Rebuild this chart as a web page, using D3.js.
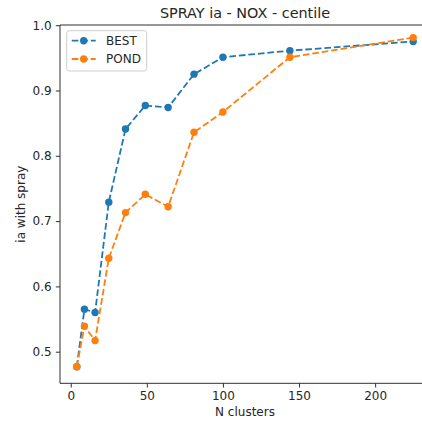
<!DOCTYPE html>
<html>
<head>
<meta charset="utf-8">
<script src="https://cdn.jsdelivr.net/npm/d3@7"></script>
<style>
  html, body { margin: 0; padding: 0; background: #fff; }
  svg { display: block; }
  text { font-family: "DejaVu Sans", sans-serif; fill: #262626; }
</style>
</head>
<body>
<svg id="chart" width="422" height="422"></svg>
<script>
const nClusters = [4, 9, 16, 25, 36, 49, 64, 81, 100, 144, 225];
const best = [0.477, 0.565, 0.560, 0.729, 0.841, 0.877, 0.874, 0.925, 0.951, 0.961, 0.975];
const pond = [0.477, 0.539, 0.517, 0.643, 0.713, 0.741, 0.722, 0.836, 0.867, 0.951, 0.981];
const xTicks = [0, 50, 100, 150, 200];
const yTicks = [0.5, 0.6, 0.7, 0.8, 0.9, 1.0];
const seriesNames = ["BEST", "POND"];
const colors = ["#1f77b4", "#ff7f0e"];

const svg = d3.select("#chart");
const mLeft = 60, mRight = 430, mTop = 25, mBottom = 383.3;
const x = d3.scaleLinear().domain([-7.05, 236.05]).range([mLeft, mRight]);
const y = d3.scaleLinear().domain([0.4516, 1.0003]).range([mBottom, mTop]);

const clipId = "plotclip";
svg.append("defs").append("clipPath").attr("id", clipId)
  .append("rect").attr("x", mLeft).attr("y", mTop).attr("width", 422 - mLeft).attr("height", mBottom - mTop);

const plot = svg.append("g").attr("clip-path", `url(#${clipId})`);
const seriesData = [best, pond];
const line = d3.line().x(d => x(d[0])).y(d => y(d[1]));
seriesData.forEach((vals, i) => {
  const pts = nClusters.map((n, j) => [n, vals[j]]);
  plot.append("path").datum(pts)
    .attr("d", line).attr("fill", "none")
    .attr("stroke", colors[i]).attr("stroke-width", 1.8)
    .attr("stroke-dasharray", "6.66,2.88");
  plot.selectAll(null).data(pts).enter().append("circle")
    .attr("cx", d => x(d[0])).attr("cy", d => y(d[1]))
    .attr("r", 3.7).attr("fill", colors[i]);
});

// axes
const xAxis = d3.axisBottom(x).tickValues(xTicks).tickSize(4.2).tickPadding(4.2).tickFormat(d3.format("d"));
const gx = svg.append("g").attr("transform", `translate(0,${mBottom})`).call(xAxis);
const yAxis = d3.axisLeft(y).tickValues(yTicks).tickSize(4.2).tickPadding(4.2).tickFormat(d3.format(".1f"));
const gy = svg.append("g").attr("transform", `translate(${mLeft},0)`).call(yAxis);
[gx, gy].forEach(g => {
  g.select(".domain").remove();
  g.selectAll(".tick line").attr("stroke", "#262626").attr("stroke-width", 0.96);
  g.selectAll(".tick text").attr("font-size", 12).attr("font-family", "DejaVu Sans").attr("fill", "#262626");
});

// spines
const sp = svg.append("g").attr("stroke", "#262626").attr("stroke-width", 0.96).attr("fill", "none");
sp.append("line").attr("x1", mLeft).attr("x2", mLeft).attr("y1", mTop).attr("y2", mBottom);
sp.append("line").attr("x1", mLeft).attr("x2", 422).attr("y1", mBottom).attr("y2", mBottom);
sp.append("line").attr("x1", mLeft).attr("x2", 422).attr("y1", mTop).attr("y2", mTop);

// title and labels
svg.append("text").attr("x", (mLeft + mRight) / 2).attr("y", 18).attr("text-anchor", "middle")
  .attr("font-size", 14.4).text("SPRAY ia - NOX - centile");
svg.append("text").attr("x", (mLeft + mRight) / 2).attr("y", 416).attr("text-anchor", "middle")
  .attr("font-size", 12).text("N clusters");
svg.append("text").attr("transform", `translate(25,${(mTop + mBottom) / 2}) rotate(-90)`)
  .attr("text-anchor", "middle").attr("font-size", 12).text("ia with spray");

// legend
const lg = svg.append("g");
lg.append("rect").attr("x", 66.7).attr("y", 30.7).attr("width", 80).attr("height", 40.3)
  .attr("rx", 2.5).attr("fill", "#fff").attr("fill-opacity", 0.8)
  .attr("stroke", "#cccccc").attr("stroke-width", 0.96);
seriesNames.forEach((name, i) => {
  const yy = 40.7 + i * 18.3;
  lg.append("line").attr("x1", 71.7).attr("x2", 95.7).attr("y1", yy).attr("y2", yy)
    .attr("stroke", colors[i]).attr("stroke-width", 1.8).attr("stroke-dasharray", "6.66,2.88");
  lg.append("circle").attr("cx", 83.7).attr("cy", yy).attr("r", 3.7).attr("fill", colors[i]);
  lg.append("text").attr("x", 106).attr("y", yy + 4.3).attr("font-size", 12).text(name);
});
</script>
</body>
</html>
